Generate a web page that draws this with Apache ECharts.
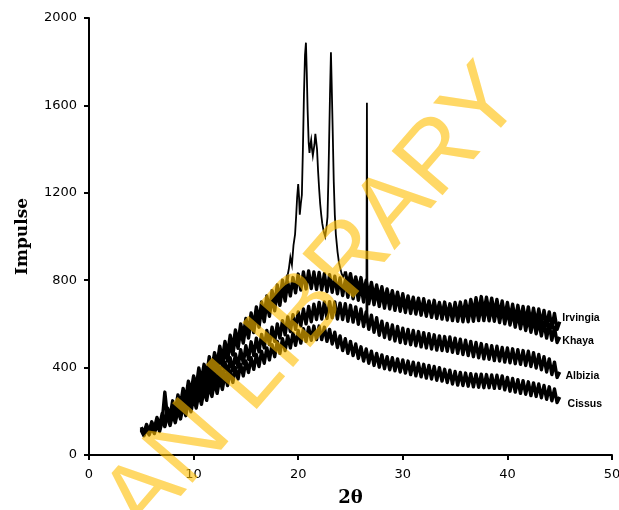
<!DOCTYPE html>
<html>
<head>
<meta charset="utf-8">
<script src="https://cdn.jsdelivr.net/npm/echarts@6/dist/echarts.min.js"></script>
<style>html,body{margin:0;padding:0;background:#fff}#c{width:619px;height:510px}</style>
</head>
<body>
<div id="c"></div>
<script>
// x grid: 5 to 45 in steps of 0.25 (2-theta)
var gridStart = 5, gridStep = 0.25;
var xTicks = [0, 10, 20, 30, 40, 50];
var yTicks = [0, 400, 800, 1200, 1600, 2000];
var seriesNames = ['Irvingia', 'Khaya', 'Albizia', 'Cissus'];

// Irvingia: 5.00 .. 19.00
var irvingiaA = [128,98,140,108,152,122,172,135,190,150,215,178,248,200,275,230,305,255,338,288,
362,310,398,340,415,365,450,392,468,415,498,440,520,462,548,490,572,512,600,545,
625,565,650,590,678,612,700,640,728,660,752,690,778,712,800,735,825];
// Irvingia crystalline peak region (x, y)
var irvingiaPeakX = [19.1,19.25,19.4,19.55,19.7,19.8,19.9,20.0,20.08,20.15,20.25,20.35,20.45,20.55,20.65,20.74,20.82,20.9,21.0,21.08,21.16,21.24,21.32,21.4,21.47,21.55,21.64,21.72,21.8,21.9,22.0,22.1,22.2,22.3,22.45,22.58,22.7,22.8,22.88,22.95,23.04,23.13,23.2,23.3,23.4,23.5,23.6,23.76,23.9,24.0,24.15,24.3];
var irvingiaPeakY = [850,905,870,960,1010,1090,1180,1240,1180,1100,1150,1190,1400,1650,1830,1887,1750,1580,1430,1382,1420,1442,1400,1370,1365,1420,1470,1475,1400,1300,1220,1150,1100,1060,1020,1000,1040,1090,1250,1420,1650,1843,1700,1480,1250,1100,1010,930,880,860,830,815];
// Irvingia: 24.50 .. 45.00
var irvingiaB = [840,775,830,762,815,752,812,740,800,728,790,722,778,712,770,700,760,695,752,688,
745,678,738,670,728,665,722,660,718,652,715,648,705,645,708,640,698,636,700,632,
692,630,698,635,700,640,705,642,712,648,720,650,725,655,722,652,718,648,712,640,
705,632,698,625,690,618,685,615,680,610,678,605,672,600,668,598,662,590,655,582,
648,575,610];
var irvingiaBStart = 24.5;

var khaya = [118,92,130,100,142,112,155,122,172,135,192,150,215,175,248,200,275,228,305,255,
335,282,360,305,380,330,410,352,432,378,462,402,485,430,515,458,545,488,572,512,
595,535,622,560,648,585,672,610,698,635,722,660,748,685,770,705,792,728,812,742,
828,755,838,760,842,762,838,758,835,755,830,748,825,745,818,738,810,730,800,722,
792,715,785,708,778,700,770,692,762,688,755,680,748,672,740,668,735,662,728,658,
722,652,718,648,712,645,708,640,702,635,698,630,695,625,690,622,685,618,682,615,
680,612,678,610,676,610,680,612,682,615,684,615,686,614,680,612,678,606,672,600,
665,595,658,585,650,578,640,570,632,562,625,555,615,545,608,535,598,525,585,515,
540];

var albizia = [120,95,128,100,138,108,150,118,165,130,185,145,205,160,232,185,255,205,280,228,
302,248,322,268,345,285,362,305,385,322,402,345,425,365,445,385,462,402,482,420,
500,438,518,455,535,472,552,490,570,505,585,520,600,535,615,550,632,565,642,575,
655,590,668,600,680,610,690,620,698,622,700,625,702,628,700,622,695,620,692,612,
685,608,678,598,668,588,655,575,640,562,628,548,612,538,602,530,595,522,588,515,
580,510,575,505,570,500,565,495,560,490,555,485,550,480,545,478,542,475,540,470,
535,465,530,460,525,455,520,450,515,445,510,440,505,438,500,432,498,430,492,425,
490,422,486,418,482,415,478,410,475,405,468,398,460,390,450,380,440,368,425,355,
380];
var albiziaPeakX = [26.52, 26.57, 26.62];
var albiziaPeakY = [640, 1612, 620];

var cissus = [112,88,118,92,128,98,140,108,155,288,172,135,188,148,205,165,225,180,245,198,
262,215,282,232,298,250,318,268,335,282,352,300,370,318,385,332,400,348,415,362,
430,378,445,392,460,405,475,420,490,435,505,450,520,465,532,478,545,490,558,502,
570,512,578,520,585,525,590,528,590,528,585,520,575,508,562,492,545,478,532,465,
520,455,508,442,495,430,485,420,475,410,465,402,458,395,450,390,445,385,440,380,
435,375,430,368,425,362,420,358,415,352,410,348,405,342,400,338,392,332,388,325,
382,320,378,318,375,315,372,312,370,310,370,308,368,308,366,305,365,305,362,298,
355,292,350,288,345,282,340,278,335,272,330,268,325,262,318,255,312,248,302,240,
265];

// label anchors in data coordinates
var labelX = [45.25, 45.25, 45.55, 45.75];
var labelY = [627, 522, 362, 233];

function gridPairs(vals, start) {
  var out = [];
  for (var i = 0; i < vals.length; i++) out.push([+(start + i * gridStep).toFixed(2), vals[i]]);
  return out;
}
function zipPairs(xs, ys) {
  var out = [];
  for (var i = 0; i < xs.length; i++) out.push([xs[i], ys[i]]);
  return out;
}

var irvA = gridPairs(irvingiaA, gridStart);
var irvB = gridPairs(irvingiaB, irvingiaBStart);
var irvPeak = [irvA[irvA.length - 1]].concat(zipPairs(irvingiaPeakX, irvingiaPeakY), [irvB[0]]);
var khayaData = gridPairs(khaya, gridStart);
var albData = gridPairs(albizia, gridStart);
var albPeak = [[26.5, albizia[86]]].concat(zipPairs(albiziaPeakX, albiziaPeakY), [[26.75, albizia[87]]]);
var cisData = gridPairs(cissus, gridStart);

var chart = echarts.init(document.getElementById('c'), null, { renderer: 'canvas' });
var axisLine = { show: true, lineStyle: { color: '#000', width: 2 } };
function band(name, data) {
  return { name: name, type: 'line', data: data, showSymbol: false, symbol: 'none', silent: true, z: 2,
    lineStyle: { color: '#000', width: 3.4, join: 'round', cap: 'butt' } };
}
function thin(name, data) {
  return { name: name, type: 'line', data: data, showSymbol: false, symbol: 'none', silent: true, z: 3,
    lineStyle: { color: '#000', width: 1.8, join: 'miter' } };
}
var option = {
  animation: false,
  backgroundColor: '#fff',
  grid: { left: 89, right: 7, top: 18, bottom: 55, containLabel: false, outerBoundsMode: 'none' },
  xAxis: {
    type: 'value', min: 0, max: 50, interval: 10,
    name: '2θ', nameLocation: 'middle', nameGap: 34,
    nameTextStyle: { fontFamily: 'DejaVu Serif', fontWeight: 'bold', fontSize: 18, color: '#000' },
    axisLine: axisLine,
    axisTick: { show: true, inside: false, length: 5, lineStyle: { color: '#000', width: 2 } },
    axisLabel: { color: '#000', fontFamily: 'DejaVu Sans', fontSize: 13, margin: 13,
      formatter: function (v) { return xTicks.indexOf(v) >= 0 ? String(v) : ''; } },
    splitLine: { show: false }
  },
  yAxis: {
    type: 'value', min: 0, max: 2000, interval: 400,
    name: 'Impulse', nameLocation: 'middle', nameGap: 58, nameRotate: 90,
    nameTextStyle: { fontFamily: 'DejaVu Serif', fontWeight: 'bold', fontSize: 17, color: '#000' },
    axisLine: axisLine,
    axisTick: { show: true, inside: false, length: 5, lineStyle: { color: '#000', width: 2 } },
    axisLabel: { color: '#000', fontFamily: 'DejaVu Sans', fontSize: 13, margin: 12,
      formatter: function (v) { return yTicks.indexOf(v) >= 0 ? String(v) : ''; } },
    splitLine: { show: false }
  },
  series: [
    band('Irvingia', irvA), thin('Irvingia', irvPeak), band('Irvingia', irvB),
    band('Khaya', khayaData),
    band('Albizia', albData), thin('Albizia', albPeak),
    band('Cissus', cisData)
  ]
};
chart.setOption(option);

var graphics = [];
for (var k = 0; k < seriesNames.length; k++) {
  var p = chart.convertToPixel({ gridIndex: 0 }, [labelX[k], labelY[k]]);
  graphics.push({
    type: 'text', x: p[0], y: p[1], z: 50,
    style: { text: seriesNames[k], fill: '#000', font: 'bold 10.5px "Liberation Sans", Arial, sans-serif',
      textAlign: 'left', textVerticalAlign: 'middle' }
  });
}
// watermark
graphics.push({
  type: 'text', x: 505, y: 82, rotation: 49 * Math.PI / 180, z: 100, silent: true,
  style: { text: 'UNIVERSITY OF IBADAN LIBRARY', fill: 'rgba(255,190,0,0.6)',
    font: '98px "Liberation Sans", Arial, sans-serif', textAlign: 'right', textVerticalAlign: 'middle' }
});
chart.setOption({ graphic: graphics });
</script>
</body>
</html>
